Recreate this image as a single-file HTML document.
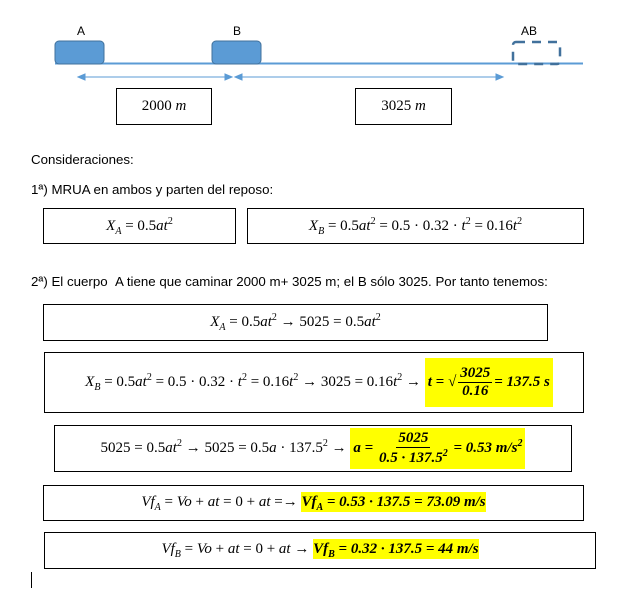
<!DOCTYPE html><html><head><style>
body{margin:0;width:639px;height:596px;background:#fff;position:relative;font-family:"Liberation Sans",sans-serif;overflow:hidden}
.a{position:absolute}
.bx{position:absolute;border:1px solid #000;box-sizing:border-box;display:flex;align-items:center;justify-content:center;font-family:"Liberation Serif",serif;font-size:15px}
.t{font-size:13.3px;position:absolute;color:#000}
.hl{background:#ffff00;font-weight:bold;font-style:italic;padding:2px 0}
i{font-style:italic}
sup,sub{font-size:10px}
.fr{display:inline-flex;flex-direction:column;align-items:center;vertical-align:middle;margin:0 2px}
.fr span:first-child{border-bottom:1px solid #000;padding:0 2px}
</style></head><body>
<svg class="a" style="left:0;top:0" width="639" height="130">
<line x1="55" y1="63.5" x2="583" y2="63.5" stroke="#5b9bd5" stroke-width="2"/>
<rect x="55" y="41" width="49" height="23" rx="4" fill="#5b9bd5" stroke="#41719c"/>
<rect x="212" y="41" width="49" height="23" rx="4" fill="#5b9bd5" stroke="#41719c"/>
<rect x="513" y="42" width="47" height="22" rx="3" fill="none" stroke="#41719c" stroke-width="2.5" stroke-dasharray="9,7"/>
<g stroke="#5b9bd5" fill="#5b9bd5"><line x1="84" y1="77" x2="229" y2="77"/><line x1="238" y1="77" x2="499" y2="77"/>
<polygon points="78,77 85,74 85,80"/><polygon points="232,77 225,74 225,80"/><polygon points="235,77 242,74 242,80"/><polygon points="503,77 496,74 496,80"/></g>
<text x="77" y="35" font-size="12" font-family="Liberation Sans">A</text>
<text x="233" y="35" font-size="12" font-family="Liberation Sans">B</text>
<text x="521" y="35" font-size="12" font-family="Liberation Sans">AB</text>
</svg>
<div class="bx" style="left:116px;top:88px;width:96px;height:37px">2000 <i>&nbsp;m</i></div>
<div class="bx" style="left:355px;top:88px;width:97px;height:37px">3025 <i>&nbsp;m</i></div>
<div class="t" style="left:31px;top:152px">Consideraciones:</div>
<div class="t" style="left:31px;top:182px">1ª) MRUA en ambos y parten del reposo:</div>
<div class="bx" style="left:43px;top:208px;width:193px;height:36px"><span><i>X<sub>A</sub></i> = 0.5<i>at</i><sup>2</sup></span></div>
<div class="bx" style="left:247px;top:208px;width:337px;height:36px"><span><i>X<sub>B</sub></i> = 0.5<i>at</i><sup>2</sup> = 0.5 · 0.32 · <i>t</i><sup>2</sup> = 0.16<i>t</i><sup>2</sup></span></div>
<div class="t" style="left:31px;top:274px">2ª) El cuerpo &nbsp;A tiene que caminar 2000 m+ 3025 m; el B sólo 3025. Por tanto tenemos:</div>
<div class="bx" style="left:43px;top:304px;width:505px;height:37px"><span><i>X<sub>A</sub></i> = 0.5<i>at</i><sup>2</sup> → 5025 = 0.5<i>at</i><sup>2</sup></span></div>
<div class="bx" style="left:44px;top:352px;width:540px;height:61px;padding-left:10px"><span><i>X<sub>B</sub></i> = 0.5<i>at</i><sup>2</sup> = 0.5 · 0.32 · <i>t</i><sup>2</sup> = 0.16<i>t</i><sup>2</sup> → 3025 = 0.16<i>t</i><sup>2</sup> → <span class="hl" style="padding:7px 3px;display:inline-block">t = √<span class="fr"><span>3025</span><span>0.16</span></span>= 137.5 s</span></span></div>
<div class="bx" style="left:54px;top:425px;width:518px;height:47px"><span>5025 = 0.5<i>at</i><sup>2</sup> → 5025 = 0.5<i>a</i> · 137.5<sup>2</sup> → <span class="hl" style="padding:2px 3px;display:inline-block">a = <span class="fr"><span>5025</span><span>0.5 · 137.5<sup>2</sup></span></span> = 0.53 m/s<sup>2</sup></span></span></div>
<div class="bx" style="left:43px;top:485px;width:541px;height:36px"><span><i>Vf<sub>A</sub></i> = <i>Vo</i> + <i>at</i> = 0 + <i>at</i> =→ <span class="hl">Vf<sub>A</sub> = 0.53 · 137.5 = 73.09 m/s</span></span></div>
<div class="bx" style="left:44px;top:532px;width:552px;height:37px"><span><i>Vf<sub>B</sub></i> = <i>Vo</i> + <i>at</i> = 0 + <i>at</i> → <span class="hl">Vf<sub>B</sub> = 0.32 · 137.5 = 44 m/s</span></span></div>
<div class="a" style="left:31px;top:572px;width:1px;height:16px;background:#000"></div>
</body></html>
